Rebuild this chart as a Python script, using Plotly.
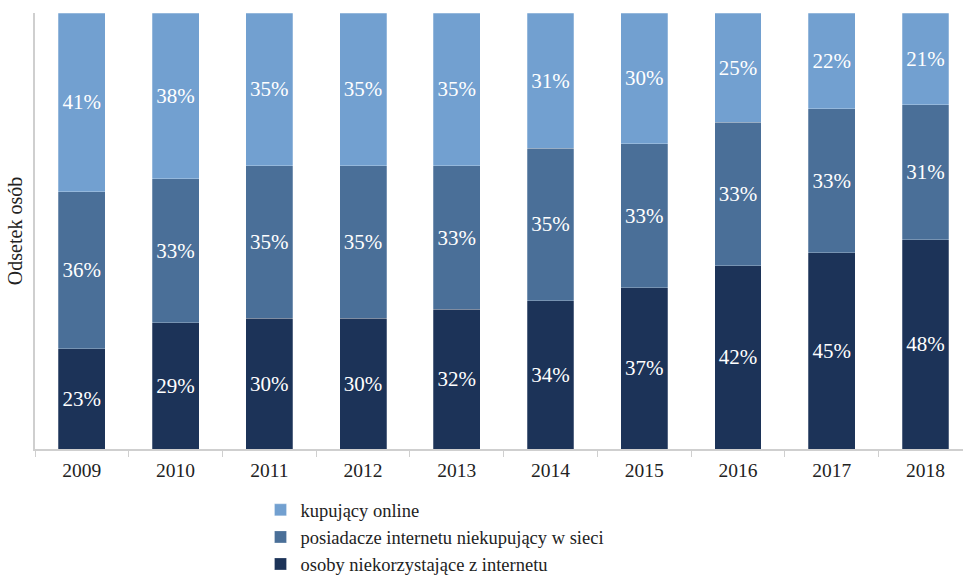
import plotly.graph_objects as go

years = ["2009", "2010", "2011", "2012", "2013", "2014", "2015", "2016", "2017", "2018"]
niekorzystajacy = [23, 29, 30, 30, 32, 34, 37, 42, 45, 48]
niekupujacy = [36, 33, 35, 35, 33, 35, 33, 33, 33, 31]
kupujacy = [41, 38, 35, 35, 35, 31, 30, 25, 22, 21]

series = [
    ("osoby niekorzystające z internetu", niekorzystajacy, "#1c3358"),
    ("posiadacze internetu niekupujący w sieci", niekupujacy, "#4a6f98"),
    ("kupujący online", kupujacy, "#72a0d0"),
]

FONT = "Liberation Serif, DejaVu Serif, serif"
fig = go.Figure()
for name, vals, col in series:
    fig.add_trace(go.Bar(
        x=years, y=vals, name=name,
        marker=dict(color=col, line=dict(color="rgba(255,255,255,0.5)", width=0.5)),
        width=0.5,
        texttemplate="%{y}%", textposition="inside", insidetextanchor="middle",
        textfont=dict(color="white", size=21, family=FONT),
        constraintext="none",
        hoverinfo="skip",
    ))

fig.update_layout(
    width=963, height=576,
    barmode="stack",
    plot_bgcolor="white", paper_bgcolor="white",
    margin=dict(l=35, r=0, t=13, b=127, autoexpand=False),
    font=dict(family=FONT, size=19, color="#222"),
    showlegend=True,
    legend=dict(
        orientation="v", traceorder="reversed",
        x=0.243, xanchor="left", yref="container", y=0.147, yanchor="top",
        font=dict(size=18.5, family=FONT, color="#222"),
        itemwidth=30, tracegroupgap=0,
        bgcolor="rgba(0,0,0,0)",
    ),
    xaxis=dict(
        type="category", range=[-0.5, 9.4],
        showline=True, linecolor="#cfcfcf", linewidth=1.5,
        ticks="outside", tickson="boundaries", ticklen=6, tickcolor="#cfcfcf",
        ticklabelstandoff=3,
        tickfont=dict(size=19.5, family=FONT, color="#222"),
        showgrid=False,
    ),
    yaxis=dict(
        range=[0, 100], showticklabels=False, showgrid=False,
        showline=True, linecolor="#cfcfcf", linewidth=1.5,
        zeroline=False,
        title=dict(text="Odsetek osób", font=dict(size=20, family=FONT, color="#222"), standoff=5),
    ),
)

fig.write_html("out.html")
